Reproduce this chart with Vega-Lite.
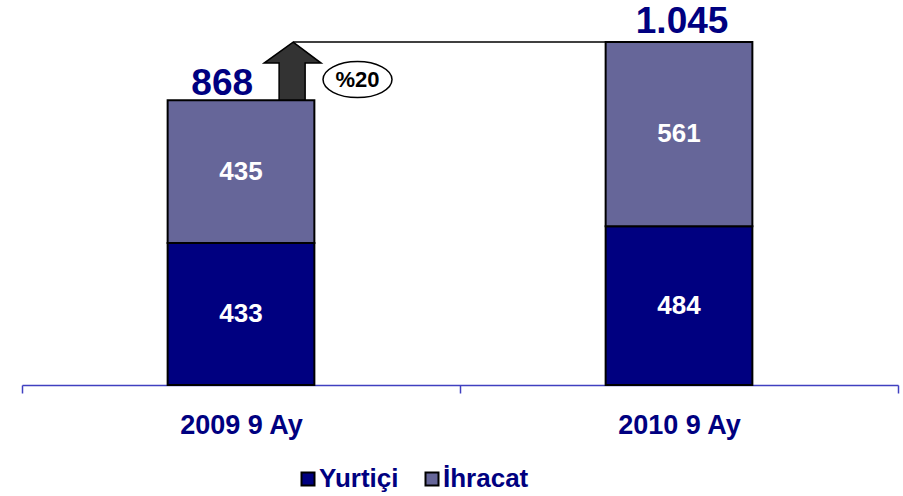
{
  "$schema": "https://vega.github.io/schema/vega-lite/v6.json",
  "width": 876,
  "height": 380,
  "autosize": "none",
  "padding": {"left": 22, "top": 5, "right": 5, "bottom": 111},
  "config": {
    "view": {"stroke": null},
    "font": "Liberation Sans",
    "locale": {"number": {"decimal": ",", "thousands": ".", "grouping": [3], "currency": ["", " TL"]}}
  },
  "datasets": {
    "sales": [
      {"period": "2009 9 Ay", "type": "Yurtiçi", "order": 1, "value": 433},
      {"period": "2009 9 Ay", "type": "İhracat", "order": 2, "value": 435},
      {"period": "2010 9 Ay", "type": "Yurtiçi", "order": 1, "value": 484},
      {"period": "2010 9 Ay", "type": "İhracat", "order": 2, "value": 561}
    ],
    "change": [
      {"from": "2009 9 Ay", "to": "2010 9 Ay", "low": 868, "high": 1045, "label": "%20"}
    ]
  },
  "layer": [
    {
      "data": {"name": "sales"},
      "mark": {"type": "bar", "width": {"band": 0.335}, "stroke": "#000000", "strokeWidth": 2},
      "encoding": {
        "x": {
          "field": "period", "type": "nominal", "sort": null, "title": null,
          "scale": {"paddingInner": 0, "paddingOuter": 0},
          "axis": {
            "domainColor": "#4040c0", "domainWidth": 1.5, "tickColor": "#4040c0", "tickWidth": 1.5,
            "tickSize": 8, "tickBand": "extent", "labelAngle": 0,
            "labelFont": "Liberation Sans", "labelFontSize": 27, "labelFontWeight": "bold",
            "labelColor": "#000080", "labelPadding": 19
          }
        },
        "y": {
          "field": "value", "type": "quantitative", "aggregate": "sum", "stack": "zero",
          "scale": {"domain": [0, 1158], "nice": false, "zero": true},
          "axis": null
        },
        "color": {
          "field": "type", "type": "nominal",
          "scale": {"domain": ["Yurtiçi", "İhracat"], "range": ["#000080", "#666699"]},
          "legend": {
            "title": null, "orient": "none", "direction": "horizontal",
            "legendX": 273, "legendY": 461, "padding": 0,
            "symbolType": "square", "symbolSize": 169, "symbolStrokeColor": "#000000",
            "symbolStrokeWidth": 2, "symbolOffset": 0,
            "labelFont": "Liberation Sans", "labelFontSize": 26, "labelFontWeight": "bold",
            "labelColor": "#000080", "labelOffset": -2, "columnPadding": 20
          }
        },
        "order": {"field": "order", "type": "quantitative"}
      }
    },
    {
      "data": {"name": "sales"},
      "transform": [
        {"stack": "value", "groupby": ["period"], "sort": [{"field": "order"}], "as": ["v0", "v1"]},
        {"calculate": "(datum.v0 + datum.v1) / 2", "as": "mid"}
      ],
      "mark": {"type": "text", "color": "#ffffff", "fontSize": 26, "fontWeight": "bold", "baseline": "middle", "font": "Liberation Sans"},
      "encoding": {
        "x": {"field": "period", "type": "nominal", "sort": null},
        "y": {"field": "mid", "type": "quantitative"},
        "text": {"field": "value", "type": "quantitative"}
      }
    },
    {
      "data": {"name": "sales"},
      "transform": [
        {"aggregate": [{"op": "sum", "field": "value", "as": "total"}], "groupby": ["period"]},
        {"filter": "datum.period == '2009 9 Ay'"}
      ],
      "mark": {"type": "text", "color": "#000080", "fontSize": 37, "fontWeight": "bold", "baseline": "alphabetic", "dy": -5, "font": "Liberation Sans"},
      "encoding": {
        "x": {"field": "period", "type": "nominal", "sort": null, "bandPosition": 0.457},
        "y": {"field": "total", "type": "quantitative"},
        "text": {"field": "total", "type": "quantitative", "format": ",d"}
      }
    },
    {
      "data": {"name": "sales"},
      "transform": [
        {"aggregate": [{"op": "sum", "field": "value", "as": "total"}], "groupby": ["period"]},
        {"filter": "datum.period == '2010 9 Ay'"}
      ],
      "mark": {"type": "text", "color": "#000080", "fontSize": 37, "fontWeight": "bold", "baseline": "alphabetic", "dy": -9, "font": "Liberation Sans"},
      "encoding": {
        "x": {"field": "period", "type": "nominal", "sort": null, "bandPosition": 0.507},
        "y": {"field": "total", "type": "quantitative"},
        "text": {"field": "total", "type": "quantitative", "format": ",d"}
      }
    },
    {
      "data": {"name": "change"},
      "mark": {"type": "rule", "color": "#000000", "strokeWidth": 1.5},
      "encoding": {
        "x": {"field": "from", "type": "nominal", "bandPosition": 0.619},
        "x2": {"field": "to", "bandPosition": 0.333},
        "y": {"field": "high", "type": "quantitative"}
      }
    },
    {
      "data": {"name": "change"},
      "mark": {
        "type": "point", "filled": true, "color": "#333333", "stroke": "#000000", "strokeWidth": 1.5, "opacity": 1,
        "size": 3600,
        "shape": "M0,0L0.933,0.7L0.4,0.7L0.4,1.933L-0.467,1.933L-0.467,0.7L-0.967,0.7Z"
      },
      "encoding": {
        "x": {"field": "from", "type": "nominal", "bandPosition": 0.619},
        "y": {"field": "high", "type": "quantitative"}
      }
    },
    {
      "data": {"name": "change"},
      "mark": {
        "type": "point", "filled": true, "color": "#ffffff", "stroke": "#000000", "strokeWidth": 1.5, "opacity": 1,
        "size": 3600,
        "shape": "M-1.15,1.25A1.15,0.6 0 1,0 1.15,1.25A1.15,0.6 0 1,0 -1.15,1.25Z"
      },
      "encoding": {
        "x": {"field": "from", "type": "nominal", "bandPosition": 0.766},
        "y": {"field": "high", "type": "quantitative"}
      }
    },
    {
      "data": {"name": "change"},
      "mark": {"type": "text", "color": "#000000", "fontSize": 22, "fontWeight": "bold", "baseline": "middle", "dy": 38, "font": "Liberation Sans"},
      "encoding": {
        "x": {"field": "from", "type": "nominal", "bandPosition": 0.766},
        "y": {"field": "high", "type": "quantitative"},
        "text": {"field": "label"}
      }
    }
  ]
}
